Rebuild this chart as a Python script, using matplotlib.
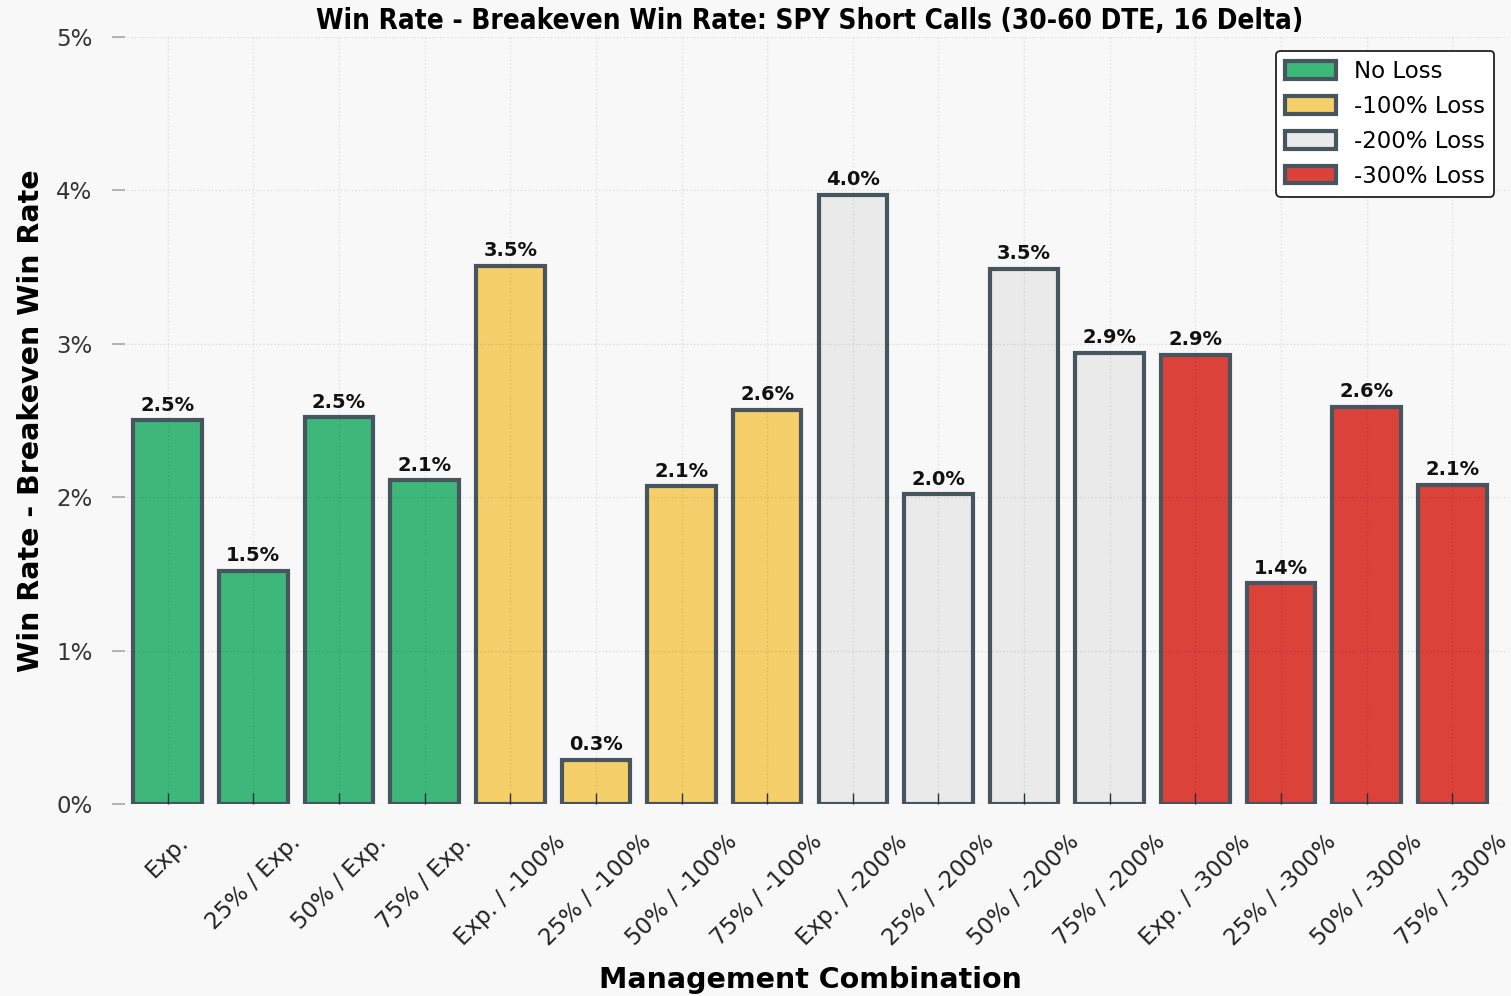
import matplotlib
matplotlib.use("Agg")
import matplotlib.pyplot as plt
from matplotlib.patches import Patch

# Management combinations (profit target / stop loss)
categories = [
    "Exp.", "25% / Exp.", "50% / Exp.", "75% / Exp.",
    "Exp. / -100%", "25% / -100%", "50% / -100%", "75% / -100%",
    "Exp. / -200%", "25% / -200%", "50% / -200%", "75% / -200%",
    "Exp. / -300%", "25% / -300%", "50% / -300%", "75% / -300%",
]
# Win rate minus breakeven win rate, in percent
edge_values = [
    2.50, 1.52, 2.52, 2.11,
    3.51, 0.29, 2.07, 2.57,
    3.97, 2.02, 3.49, 2.94,
    2.93, 1.44, 2.59, 2.08,
]
# Stop-loss group of each combination
groups = [
    "No Loss", "No Loss", "No Loss", "No Loss",
    "-100% Loss", "-100% Loss", "-100% Loss", "-100% Loss",
    "-200% Loss", "-200% Loss", "-200% Loss", "-200% Loss",
    "-300% Loss", "-300% Loss", "-300% Loss", "-300% Loss",
]
group_names = ["No Loss", "-100% Loss", "-200% Loss", "-300% Loss"]
group_colors = ["#3eb77a", "#f4cf6a", "#eaeaea", "#db423a"]
y_ticks = [0, 1, 2, 3, 4, 5]

EDGE = "#47555f"
BG = "#f8f8f8"

fig = plt.figure(figsize=(15.11, 9.96), dpi=100, facecolor=BG)
ax = fig.add_axes([112 / 1511, 192 / 996, 1396 / 1511, 767 / 996])
ax.set_facecolor(BG)

color_map = dict(zip(group_names, group_colors))
x = list(range(len(categories)))
bars = ax.bar(x, edge_values, width=0.8,
              color=[color_map[g] for g in groups],
              edgecolor=EDGE, linewidth=3.0, zorder=1)

for xi, v in zip(x, edge_values):
    ax.annotate(f"{v:.1f}%", xy=(xi, v), xytext=(0, 4),
                textcoords="offset points", ha="center", va="bottom",
                fontsize=14, fontweight="bold", color="#111111", zorder=4)

ax.set_xlim(-0.65, 15.65)
ax.set_ylim(0, 5)
ax.set_yticks(y_ticks)
ax.set_yticklabels([f"{t}%" for t in y_ticks])
ax.set_xticks(x)
ax.set_xticklabels(categories, rotation=45, ha="center")

ax.tick_params(axis="y", direction="in", length=9, width=1.2,
               color="#a8a8a8", pad=14, labelsize=16.5,
               labelcolor="#333333")
ax.tick_params(axis="x", direction="in", length=8, width=1.0,
               color="#2a3238", pad=19, labelsize=16.5,
               labelcolor="#222222")

ax.set_axisbelow(False)
ax.grid(True, linestyle=":", linewidth=1.0, color="black", alpha=0.1)
for s in ax.spines.values():
    s.set_visible(False)

ax.set_title("Win Rate - Breakeven Win Rate: SPY Short Calls (30-60 DTE, 16 Delta)",
             fontsize=20, fontweight="bold", fontstretch="condensed", pad=6)
ax.set_xlabel("Management Combination", fontsize=20.5, fontweight="bold", labelpad=11)
ax.set_ylabel("Win Rate - Breakeven Win Rate", fontsize=20.5, fontweight="bold", labelpad=8)

handles = [Patch(facecolor=c, edgecolor=EDGE, linewidth=3.0, label=n)
           for n, c in zip(group_names, group_colors)]
leg = ax.legend(handles=handles, loc="upper right", fontsize=16.5,
                frameon=True, fancybox=True, framealpha=1.0,
                facecolor="white", edgecolor="#222222",
                handlelength=2.2, handleheight=0.8, labelspacing=0.52,
                borderaxespad=0.6)
leg.get_frame().set_linewidth(1.3)
leg.set_zorder(5)

fig.savefig("out.png", dpi=100, facecolor=BG)
